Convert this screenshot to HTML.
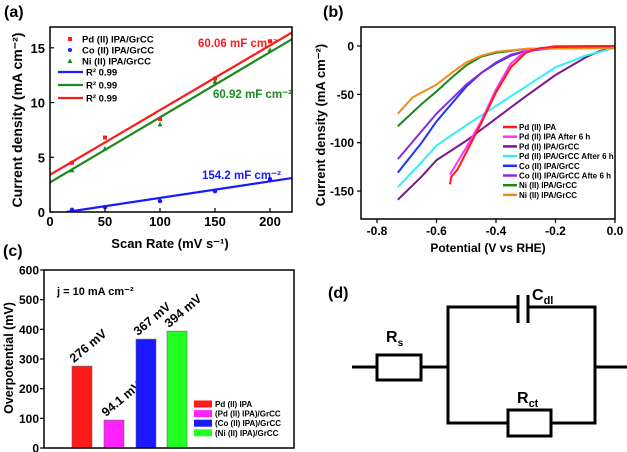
<!DOCTYPE html>
<html><head><meta charset="utf-8"><style>
body{margin:0;background:#fff}
svg{display:block;font-family:"Liberation Sans",sans-serif}
</style></head><body>
<svg width="627" height="452" viewBox="0 0 627 452">
<g id="pa"></g>
<g id="pb"></g>
<g id="pc"></g>
<g id="pd" fill="none" stroke="#000" stroke-width="3">
<line x1="352" y1="367" x2="377" y2="367"/>
<rect x="377" y="355" width="44" height="25"/>
<line x1="421" y1="367" x2="448" y2="367"/>
<polyline points="518,307 448,307 448,423 508,423"/>
<line x1="518" y1="295" x2="518" y2="323"/>
<line x1="528" y1="295" x2="528" y2="323"/>
<polyline points="528,307 595,307 595,423 551,423"/>
<rect x="508" y="410" width="43" height="26"/>
<line x1="595" y1="367" x2="627" y2="367"/>
<g stroke="none" fill="#000" font-family="'Liberation Sans',sans-serif">
<text x="328" y="298" font-size="16" font-weight="bold">(d)</text>
<text x="386" y="342" font-size="16" font-weight="bold">R<tspan font-size="10" dy="4">s</tspan></text>
<text x="532" y="300" font-size="16" font-weight="bold">C<tspan font-size="11" dy="4">dl</tspan></text>
<text x="517" y="403" font-size="16" font-weight="bold">R<tspan font-size="11" dy="4">ct</tspan></text>
</g>
</g>
</svg>
<script>
const NS="http://www.w3.org/2000/svg";
function mk(p,tag,at,txt){const e=document.createElementNS(NS,tag);for(const k in at)e.setAttribute(k,at[k]);if(txt!==undefined)e.textContent=txt;p.appendChild(e);return e;}

// ---------- Panel A data ----------
const aScan=[20,50,100,150,200];
const aPd=[4.5,6.8,8.5,12.2,15.6];
const aCo=[0.2,0.45,1.0,1.9,3.0];
const aNi=[3.8,5.8,8.0,11.9,14.8];
const aSlopes=[0.0591,0.0595,0.01512];
const aIntercepts=[3.4,2.7,-0.227];
const aXTicks=[0,50,100,150,200];
const aYTicks=[0,5,10,15];

// ---------- Panel B data ----------
const bNames=["Pd (II) IPA","Pd (II) IPA After 6 h","Pd (II) IPA/GrCC","Pd (II) IPA/GrCC After 6 h","Co (II) IPA/GrCC","Co (II) IPA/GrCC Afte 6 h","Ni (II) IPA/GrCC","Ni (II) IPA/GrCC"];
const bColors=["#ff1a1a","#ff33ff","#7a1a8a","#33eeff","#1a33ff","#8a2be2","#1a8a1a","#f08c1a"];
const bPotPd=[-0.555,-0.55,-0.53,-0.5,-0.45,-0.4,-0.35,-0.3,-0.25,-0.2,0];
const bCurPd=[-143,-135,-128,-110,-80,-48,-22,-7,-2,-1,0];
const bPotPd6=[-0.555,-0.5,-0.45,-0.4,-0.35,-0.3,-0.2,0];
const bCurPd6=[-133,-105,-78,-45,-18,-5,0,0];
const bPotPdG=[-0.73,-0.65,-0.6,-0.5,-0.4,-0.3,-0.2,-0.1,-0.05,0];
const bCurPdG=[-159,-135,-118,-98,-75,-52,-30,-12,-5,-2];
const bPotPdG6=[-0.73,-0.65,-0.6,-0.5,-0.4,-0.3,-0.2,-0.1,0];
const bCurPdG6=[-146,-120,-103,-82,-62,-42,-22,-10,-2];
const bPotCo=[-0.73,-0.65,-0.6,-0.55,-0.5,-0.45,-0.4,-0.35,-0.3,-0.2,0];
const bCurCo=[-131,-100,-78,-60,-42,-28,-18,-10,-5,-2,-1];
const bPotCo6=[-0.73,-0.65,-0.6,-0.5,-0.45,-0.4,-0.35,-0.3,-0.2,0];
const bCurCo6=[-117,-88,-70,-40,-28,-17,-9,-5,-2,0];
const bPotNi=[-0.73,-0.65,-0.6,-0.55,-0.5,-0.45,-0.4,-0.3,0];
const bCurNi=[-83,-60,-47,-33,-20,-11,-7,-3,-2];
const bPotNi2=[-0.73,-0.68,-0.6,-0.55,-0.5,-0.45,-0.4,-0.3,0];
const bCurNi2=[-70,-53,-40,-28,-17,-10,-6,-3,-2];
const bXTicks=[-0.8,-0.6,-0.4,-0.2,0.0];
const bYTicks=[0,-50,-100,-150];

// ---------- Panel C data ----------
const cNames=["Pd (II) IPA","(Pd (II) IPA)/GrCC","(Co (II) IPA)/GrCC","(Ni (II) IPA)/GrCC"];
const cValues=[276,94.1,367,394];
const cLabels=["276 mV","94.1 mV","367 mV","394 mV"];
const cColors=["#ff1a1a","#ff22ff","#1a1aff","#22ff22"];
const cYTicks=[0,100,200,300,400,500,600];

// ===== Panel A =====
(function(){
const g=document.getElementById('pa');
const L=50,R=292,T=27,B=212;
const X=v=>L+(v-0)*(R-L)/220, Y=v=>B-(v-0)*(B-T)/16.9;
mk(g,'text',{x:4,y:17,'font-size':16,'font-weight':'bold',},'(a)');
const cols=["#ff1a1a","#1a8a1a","#1a1aff"];
const clip=mk(g,'clipPath',{id:'ca'});mk(clip,'rect',{x:L,y:T,width:R-L,height:B-T});
aSlopes.forEach((s,i)=>{
  let x0=0; if(aIntercepts[i]<0) x0=-aIntercepts[i]/s;
  const l=mk(g,'line',{x1:X(x0),y1:Y(aIntercepts[i]+s*x0),x2:X(220),y2:Y(aIntercepts[i]+s*220),stroke:cols[i],'stroke-width':2.2,'clip-path':'url(#ca)'});
  
  
});
aScan.forEach((x,i)=>{
  const r=mk(g,'rect',{x:X(x)-2,y:Y(aPd[i])-2,width:4,height:4,fill:'#ff1a1a'});
  
  
  const c=mk(g,'circle',{cx:X(x),cy:Y(aCo[i]),r:2.2,fill:'#1a1aff'});
  
  
  const t=mk(g,'polygon',{points:`${X(x)},${Y(aNi[i])-2.5} ${X(x)-2.5},${Y(aNi[i])+2} ${X(x)+2.5},${Y(aNi[i])+2}`,fill:'#1a8a1a'});
  
  
});
mk(g,'rect',{x:L,y:T,width:R-L,height:B-T,fill:'none',stroke:'#000','stroke-width':1.5,});
aXTicks.forEach(v=>{mk(g,'line',{x1:X(v),y1:B,x2:X(v),y2:B-4,stroke:'#000','stroke-width':1.2});
  const t=mk(g,'text',{x:X(v),y:B+14,'text-anchor':'middle','font-size':13,'font-weight':'bold'},String(v));
  
  });
aYTicks.forEach(v=>{mk(g,'line',{x1:L,y1:Y(v),x2:L+4,y2:Y(v),stroke:'#000','stroke-width':1.2});
  const t=mk(g,'text',{x:L-5,y:Y(v)+5,'text-anchor':'end','font-size':13,'font-weight':'bold'},String(v));
  
  });
mk(g,'text',{x:170,y:248,'text-anchor':'middle','font-size':13,'font-weight':'bold',},'Scan Rate (mV s⁻¹)');
mk(g,'text',{transform:'translate(22,120) rotate(-90)','text-anchor':'middle','font-size':14,'font-weight':'bold',},'Current density (mA cm⁻²)');
const leg=[["Pd (II) IPA/GrCC",'sq','#ff1a1a',39],["Co (II) IPA/GrCC",'ci','#1a1aff',50],["Ni (II) IPA/GrCC",'tr','#1a8a1a',61]];
leg.forEach(e=>{const y=e[3];
  if(e[1]=='sq')mk(g,'rect',{x:68,y:y-2,width:4,height:4,fill:e[2]});
  else if(e[1]=='ci')mk(g,'circle',{cx:70,cy:y,r:2,fill:e[2]});
  else mk(g,'polygon',{points:`70,${y-2.5} 67.5,${y+2} 72.5,${y+2}`,fill:e[2]});
  mk(g,'text',{x:82,y:y+3.5,'font-size':9.5,'font-weight':'bold',},e[0]);});
[["#1a1aff",72],["#1a8a1a",85],["#ff1a1a",98]].forEach(e=>{
  mk(g,'line',{x1:58,y1:e[1],x2:83,y2:e[1],stroke:e[0],'stroke-width':2.2});
  mk(g,'text',{x:86,y:e[1]+3.5,'font-size':9.5,'font-weight':'bold',},'R² 0.99');});
mk(g,'text',{x:198,y:47,'font-size':11.5,'font-weight':'bold',fill:'#ff1a1a',},'60.06 mF cm⁻²');
mk(g,'text',{x:213,y:98,'font-size':11.5,'font-weight':'bold',fill:'#1a8a1a',},'60.92 mF cm⁻²');
mk(g,'text',{x:202,y:179,'font-size':11.5,'font-weight':'bold',fill:'#1a1aff',},'154.2 mF cm⁻²');
})();

// ===== Panel B =====
(function(){
const g=document.getElementById('pb');
const L=361,R=615,T=27,B=219;
const X=v=>615+v*297.5, Y=v=>46-v*0.967;
mk(g,'text',{x:323,y:17,'font-size':16,'font-weight':'bold',},'(b)');
const series=[[bPotPd,bCurPd],[bPotPd6,bCurPd6],[bPotPdG,bCurPdG],[bPotPdG6,bCurPdG6],[bPotCo,bCurCo],[bPotCo6,bCurCo6],[bPotNi,bCurNi],[bPotNi2,bCurNi2]];
const order=[2,3,4,5,6,7,1,0];
order.forEach(i=>{const s=series[i];
  const p=mk(g,'polyline',{points:s[0].map((x,j)=>X(x)+','+Y(s[1][j])).join(' '),fill:'none',stroke:bColors[i],'stroke-width':2});
  
  });
mk(g,'rect',{x:L,y:T,width:R-L,height:B-T,fill:'none',stroke:'#000','stroke-width':1.5,});
bXTicks.forEach(v=>{mk(g,'line',{x1:X(v),y1:B,x2:X(v),y2:B+4,stroke:'#000','stroke-width':1.2});
  const t=mk(g,'text',{x:X(v),y:B+16,'text-anchor':'middle','font-size':12,'font-weight':'bold'},v.toFixed(1));
  
  });
bYTicks.forEach(v=>{mk(g,'line',{x1:L,y1:Y(v),x2:L-4,y2:Y(v),stroke:'#000','stroke-width':1.2});
  const t=mk(g,'text',{x:L-7,y:Y(v)+4.5,'text-anchor':'end','font-size':12,'font-weight':'bold'},String(v));
  
  });
mk(g,'text',{x:488,y:252,'text-anchor':'middle','font-size':12,'font-weight':'bold',},'Potential (V vs RHE)');
mk(g,'text',{transform:'translate(325,125) rotate(-90)','text-anchor':'middle','font-size':13,'font-weight':'bold',},'Current density (mA cm⁻²)');
bNames.forEach((n,i)=>{const y=127+i*9.7;
  mk(g,'line',{x1:503,y1:y,x2:517,y2:y,stroke:bColors[i],'stroke-width':2.5});
  const t=mk(g,'text',{x:519,y:y+3,'font-size':8,'font-weight':'bold'},n);
  
  });
})();

// ===== Panel C =====
(function(){
const g=document.getElementById('pc');
const L=44,R=294,T=270,B=448;
const Y=v=>B-v*(B-T)/600;
const bx=[72,104,136,167];
mk(g,'text',{x:3,y:256,'font-size':16,'font-weight':'bold',},'(c)');
cValues.forEach((v,i)=>{
  const r=mk(g,'rect',{x:bx[i],y:Y(v),width:20,height:B-Y(v),fill:cColors[i],stroke:'#666','stroke-width':0.6});
  
  
  const t=mk(g,'text',{transform:`translate(${bx[i]+2},${Y(v)-3}) rotate(-40)`,'font-size':12.5,'font-weight':'bold'},cLabels[i]);
  
  
});
mk(g,'rect',{x:L,y:T,width:R-L,height:B-T,fill:'none',stroke:'#000','stroke-width':1.5,});
cYTicks.forEach(v=>{mk(g,'line',{x1:L,y1:Y(v),x2:L-4,y2:Y(v),stroke:'#000','stroke-width':1.2});
  const t=mk(g,'text',{x:L-5,y:Y(v)+4.5,'text-anchor':'end','font-size':12,'font-weight':'bold'},String(v));
  
  });
mk(g,'text',{transform:'translate(13,358) rotate(-90)','text-anchor':'middle','font-size':12.5,'font-weight':'bold',},'Overpotential (mV)');
mk(g,'text',{x:57,y:295,'font-size':11,'font-weight':'bold',},'j = 10 mA cm⁻²');
cNames.forEach((n,i)=>{const y=404+i*9.6;
  mk(g,'rect',{x:194,y:y-3.5,width:18,height:7,fill:cColors[i]});
  const t=mk(g,'text',{x:215,y:y+3,'font-size':8,'font-weight':'bold'},n);
  
  });
})();
</script>
</body></html>
